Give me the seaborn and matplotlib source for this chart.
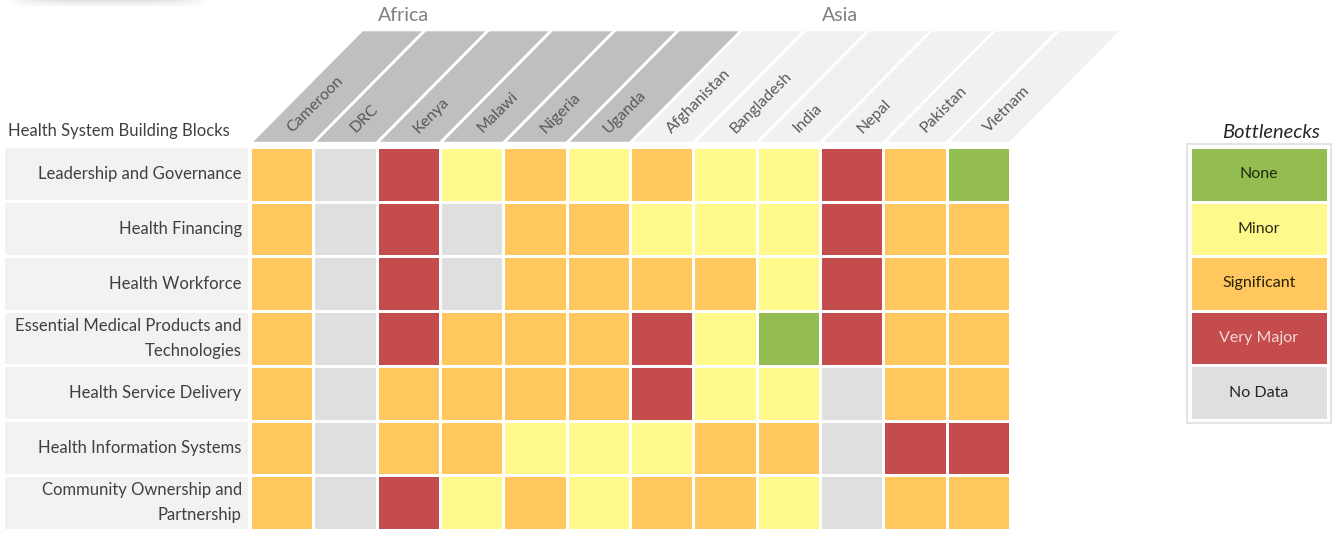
import numpy as np
import pandas as pd
import matplotlib
matplotlib.use("Agg")
import matplotlib.pyplot as plt
import seaborn as sns
from matplotlib.colors import ListedColormap
from matplotlib.patches import Polygon, Rectangle

# ---------------- data ----------------
countries = ["Cameroon", "DRC", "Kenya", "Malawi", "Nigeria", "Uganda",
             "Afghanistan", "Bangladesh", "India", "Nepal", "Pakistan", "Vietnam"]
regions = ["Africa"] * 6 + ["Asia"] * 6
blocks = ["Leadership and Governance",
          "Health Financing",
          "Health Workforce",
          "Essential Medical Products and\nTechnologies",
          "Health Service Delivery",
          "Health Information Systems",
          "Community Ownership and\nPartnership"]
levels = ["None", "Minor", "Significant", "Very Major", "No Data"]
level_colors = ["#93BD50", "#FFF98C", "#FFC75E", "#C44C4C", "#DFDFDF"]
level_text_colors = ["#1E2A10", "#2A2A10", "#2A2008", "#F8D8D8", "#262626"]

# per building block, one entry per country (in order of `countries`)
leadership   = ["Significant", "No Data", "Very Major", "Minor", "Significant", "Minor",
                "Significant", "Minor", "Minor", "Very Major", "Significant", "None"]
financing    = ["Significant", "No Data", "Very Major", "No Data", "Significant", "Significant",
                "Minor", "Minor", "Minor", "Very Major", "Significant", "Significant"]
workforce    = ["Significant", "No Data", "Very Major", "No Data", "Significant", "Significant",
                "Significant", "Significant", "Minor", "Very Major", "Significant", "Significant"]
medical      = ["Significant", "No Data", "Very Major", "Significant", "Significant", "Significant",
                "Very Major", "Minor", "None", "Very Major", "Significant", "Significant"]
service      = ["Significant", "No Data", "Significant", "Significant", "Significant", "Significant",
                "Very Major", "Minor", "Minor", "No Data", "Significant", "Significant"]
information  = ["Significant", "No Data", "Significant", "Significant", "Minor", "Minor",
                "Minor", "Significant", "Significant", "No Data", "Very Major", "Very Major"]
community    = ["Significant", "No Data", "Very Major", "Minor", "Significant", "Minor",
                "Significant", "Significant", "Minor", "No Data", "Significant", "Significant"]

rows = [leadership, financing, workforce, medical, service, information, community]
codes = {lv: i for i, lv in enumerate(levels)}
df = pd.DataFrame([[codes[v] for v in r] for r in rows], index=blocks, columns=countries)

# ---------------- style ----------------
sns.set_theme(style="white")
plt.rcParams["font.family"] = ["Lato", "DejaVu Sans"]

W, H = 1338, 538
fig = plt.figure(figsize=(W / 100, H / 100), dpi=100)
fig.patch.set_facecolor("white")

cmap = ListedColormap(level_colors)

# faint shadow bar at the very top-left
sax = fig.add_axes([8 / W, 1 - 6 / H, 200 / W, 6 / H])
xx = np.linspace(-1, 1, 200)
grad = np.clip(1 - np.abs(xx) ** 4, 0, 1)[None, :] * np.linspace(1, 0.4, 6)[:, None]
sax.imshow(grad, cmap="Greys", vmin=0, vmax=5, aspect="auto", interpolation="bilinear")
sax.axis("off")

ax = fig.add_axes([250 / W, 8 / H, 760 / W, 383 / H])
sns.heatmap(df, ax=ax, cmap=cmap, vmin=-0.5, vmax=len(levels) - 0.5, cbar=False,
            linewidths=2, linecolor="white", xticklabels=False, yticklabels=True)
ax.tick_params(axis="y", length=0, pad=6, labelsize=12, labelcolor="#404040")
for lbl in ax.get_yticklabels():
    lbl.set_rotation(0)
    lbl.set_ha("right")
    lbl.set_multialignment("right")
    lbl.set_linespacing(1.7)
ax.set_xlabel("")
ax.set_ylabel("")

# row label backgrounds
for i in range(len(blocks)):
    ax.add_patch(Rectangle((-3.87, i + 0.025), 3.84, 0.95, facecolor="#F2F2F2",
                           edgecolor="none", clip_on=False, zorder=0))

# slanted column headers
dxc, dyr, gap = 1.77, 2.07, 0.07
region_colors = {"Africa": "#BFBFBF", "Asia": "#F1F1F1"}
for j, (c, reg) in enumerate(zip(countries, regions)):
    pts = [(j, -gap), (j + 1, -gap), (j + 1 + dxc, -gap - dyr), (j + dxc, -gap - dyr)]
    ax.add_patch(Polygon(pts, closed=True, facecolor=region_colors[reg],
                         edgecolor="white", linewidth=2, clip_on=False, zorder=0))
    ax.text(j + 0.62, -0.30, c, rotation=45, rotation_mode="anchor", ha="left",
            va="center", fontsize=11.5, color="#595959", clip_on=False)

region_centers = {"Africa": 2.43, "Asia": 9.32}
for reg, xc in region_centers.items():
    ax.text(xc, -2.41, reg, ha="center", va="center", fontsize=14,
            color="#7F7F7F", clip_on=False)

fig.text(8 / W, 1 - 131 / H, "Health System Building Blocks", ha="left", va="center",
         fontsize=12, color="#404040")

# legend
frame = Rectangle((1187 / W, (H - 423) / H), 144 / W, 279 / H, transform=fig.transFigure,
                  facecolor="white", edgecolor="#E4E4E4", linewidth=1.5, zorder=-5)
fig.patches.append(frame)
lax = fig.add_axes([1190 / W, (H - 420) / H, 138 / W, 273 / H])
leg_df = pd.DataFrame({"v": list(range(len(levels)))}, index=levels)
sns.heatmap(leg_df, ax=lax, cmap=cmap, vmin=-0.5, vmax=len(levels) - 0.5, cbar=False,
            linewidths=2, linecolor="white", xticklabels=False, yticklabels=False,
            annot=np.array(levels).reshape(-1, 1), fmt="",
            annot_kws={"fontsize": 11.5})
for t, col in zip(lax.texts, level_text_colors):
    t.set_color(col)
lax.set_xlabel("")
lax.set_ylabel("")
fig.text(1271 / W, 1 - 132 / H, "Bottlenecks", ha="center", va="center",
         fontsize=14.5, style="italic", color="#262626")

fig.savefig("out.png", dpi=100)
